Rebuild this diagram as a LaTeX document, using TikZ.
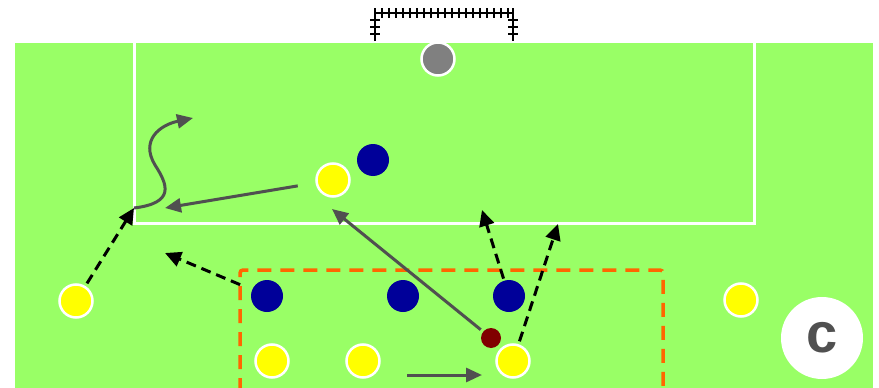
\documentclass[tikz,border=0pt]{standalone}
\usepackage{fontspec}
\usetikzlibrary{arrows.meta}
\newfontfamily\labelfont{Liberation Sans}
\definecolor{pitch}{RGB}{153,255,102}
\definecolor{home}{RGB}{0,0,153}
\definecolor{guest}{RGB}{255,255,0}
\definecolor{ballred}{RGB}{128,0,0}
\definecolor{passgrey}{RGB}{80,80,80}
\definecolor{zone}{RGB}{255,102,0}
\tikzset{
  yellowp/.style={circle,fill=guest,draw=white,line width=2.5pt,minimum size=33pt,inner sep=0pt},
  bluep/.style={circle,fill=home,minimum size=32pt,inner sep=0pt},
  keeper/.style={circle,fill=gray,draw=white,line width=2.5pt,minimum size=33pt,inner sep=0pt},
  ballp/.style={circle,fill=ballred,minimum size=20pt,inner sep=0pt},
  pass/.style={draw=passgrey,line width=3pt,-{Triangle[length=16pt,width=14pt]}},
  run/.style={draw=black,line width=3pt,dash pattern=on 10pt off 6pt,-{Triangle[length=16pt,width=15pt]}},
}
\begin{document}
\begin{tikzpicture}[x=1pt,y=-1pt]
    \useasboundingbox (0,0) rectangle (879,388);
    \fill[white] (0,0) rectangle (879,388);
    \fill[pitch] (15,43) rectangle (873,388);
    % penalty box
    \draw[white,line width=3pt] (134,43) -- (134,223) -- (754,223) -- (754,43);
    % goal
    \draw[black,line width=2.5pt] (375,41) -- (375,13) -- (513,13) -- (513,41);
    \foreach \x in {375,382,...,512,513}
      \draw[black,line width=2pt] (\x,8) -- (\x,18);
    \foreach \y in {20,27,34} {
      \draw[black,line width=2pt] (370,\y) -- (380,\y);
      \draw[black,line width=2pt] (508,\y) -- (518,\y);
    }
    % zone
    \draw[zone,line width=3.5pt,dash pattern=on 14pt off 9pt,rounded corners=3pt]
      (240,392) -- (240,270) -- (663,270) -- (663,392);
    % players
    \node[keeper] (gk) at (438,59) {};
    \node[bluep] (b1) at (267,296) {};
    \node[bluep] (b2) at (403,296) {};
    \node[bluep] (b3) at (509,296) {};
    \node[bluep] (b4) at (373,160) {};
    \node[yellowp] (y1) at (333,180) {};
    \node[yellowp] (y2) at (76,301) {};
    \node[yellowp] (y3) at (741,300) {};
    \node[yellowp] (y4) at (272,361) {};
    \node[yellowp] (y5) at (363,361) {};
    \node[yellowp] (y6) at (513,361) {};
    \node[ballp] (ball) at (491,338) {};
    % free ends
    \coordinate (t1) at (165,208);
    \coordinate (t2) at (332,209);
    \coordinate (s3) at (407,375);
    \coordinate (t3) at (482,375);
    \coordinate (t4) at (134,208);
    \coordinate (t5) at (165,253);
    \coordinate (t6) at (482,210);
    \coordinate (t7) at (558,224);
    \coordinate (t8) at (193,118);
    % passes
    \draw[pass,shorten <=18pt] (y1) -- (t1);
    \draw[pass,shorten <=3pt] (ball) -- (t2);
    \draw[pass] (s3) -- (t3);
    \draw[pass] (t4) .. controls (175,203) and (168,185) .. (155,165)
      .. controls (140,140) and (160,125) .. (t8);
    % runs
    \draw[run,shorten <=3pt] (y2) -- (t4);
    \draw[run,shorten <=13pt] (b1) -- (t5);
    \draw[run,shorten <=2pt] (b3) -- (t6);
    \draw[run,shorten <=3pt] (y6) -- (t7);
    % label
    \node[circle,fill=white,minimum size=82pt,inner sep=0pt] (lbl) at (822,338) {};
    \node[text=passgrey,font=\labelfont\bfseries\fontsize{56}{56}\selectfont] at (lbl.center) {c};
\end{tikzpicture}
\end{document}
